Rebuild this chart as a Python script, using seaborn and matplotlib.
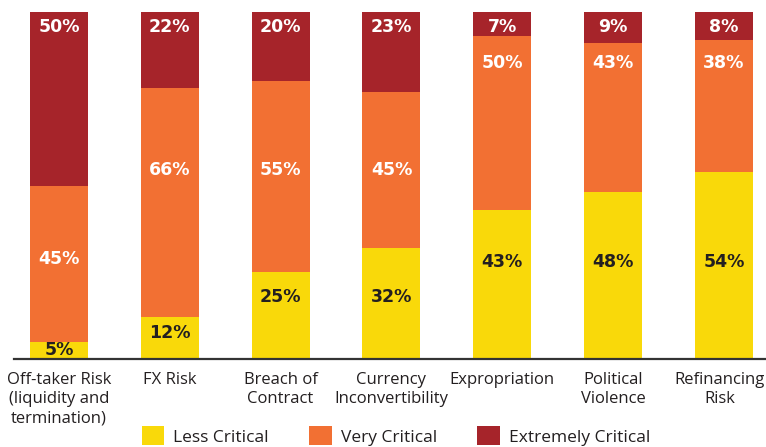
import matplotlib
matplotlib.use("Agg")
import matplotlib.pyplot as plt
import matplotlib.transforms as mtransforms
from matplotlib.patches import Patch
import seaborn as sns
import numpy as np
import pandas as pd

categories = ["Off-taker Risk\n(liquidity and\ntermination)", "FX Risk", "Breach of\nContract",
              "Currency\nInconvertibility", "Expropriation", "Political\nViolence", "Refinancing\nRisk"]
less_critical = [5, 12, 25, 32, 43, 48, 54]
very_critical = [45, 66, 55, 45, 50, 43, 38]
extremely_critical = [50, 22, 20, 23, 7, 9, 8]
series_names = ["Less Critical", "Very Critical", "Extremely Critical"]

# label vertical positions (data units) for each segment
pos_less = [2.6, 7.5, 17.9, 17.9, 28.0, 28.0, 28.0]
pos_very = [28.8, 54.5, 54.5, 54.5, 85.3, 85.3, 85.3]
pos_extreme = [95.7] * 7

c_yellow = "#F9D90A"
c_orange = "#F27033"
c_red = "#A6242A"

sns.set_theme(style="white")
plt.rcParams["font.family"] = ["Open Sans", "DejaVu Sans"]

fig = plt.figure(figsize=(7.66, 4.47), dpi=100)
ax = fig.add_axes([14 / 766, (447 - 359) / 447, 1 - 14 / 766, (359 - 12) / 447])

less = np.array(less_critical)
very = np.array(very_critical)
ext = np.array(extremely_critical)
df = pd.DataFrame({"cat": categories,
                   "top": less + very + ext,
                   "mid": less + very,
                   "low": less})

bw = 0.523
sns.barplot(data=df, x="cat", y="top", color=c_red, width=bw, saturation=1, ax=ax, linewidth=0)
sns.barplot(data=df, x="cat", y="mid", color=c_orange, width=bw, saturation=1, ax=ax, linewidth=0)
sns.barplot(data=df, x="cat", y="low", color=c_yellow, width=bw, saturation=1, ax=ax, linewidth=0)

lab_kw = dict(ha="center", va="center", fontsize=12.5, fontweight="bold", family="DejaVu Sans")
for i in range(len(categories)):
    ax.text(i, pos_less[i], f"{less_critical[i]}%", color="#231F20", **lab_kw)
    ax.text(i, pos_very[i], f"{very_critical[i]}%", color="white", **lab_kw)
    ax.text(i, pos_extreme[i], f"{extremely_critical[i]}%", color="white", **lab_kw)

ax.set_xlim(-0.406, 6.38)
ax.set_ylim(0, 100)
ax.set_xlabel("")
ax.set_ylabel("")
ax.set_yticks([])
for s in ["top", "right", "left"]:
    ax.spines[s].set_visible(False)
ax.spines["bottom"].set_color("#333333")
ax.spines["bottom"].set_linewidth(1.6)
ax.tick_params(axis="x", length=0, pad=9, labelsize=12, labelcolor="#231F20")
ticklabels = ax.get_xticklabels()
for t in ticklabels:
    t.set_linespacing(1.3)
# nudge the last label so it stays inside the figure
shift = mtransforms.ScaledTranslation(-4 / 100, 0, fig.dpi_scale_trans)
ticklabels[-1].set_transform(ticklabels[-1].get_transform() + shift)
ax.set_facecolor("none")

handles = [Patch(facecolor=c, edgecolor="none", label=n)
           for c, n in zip([c_yellow, c_orange, c_red], series_names)]
fig.legend(handles=handles, loc="center", bbox_to_anchor=(0.517, 1 - 436 / 447), ncol=3,
           frameon=False, fontsize=12.5, handlelength=1.32, handleheight=1.27,
           handletextpad=0.52, columnspacing=2.3, labelcolor="#231F20", borderpad=0)

fig.savefig("out.png", dpi=100)
